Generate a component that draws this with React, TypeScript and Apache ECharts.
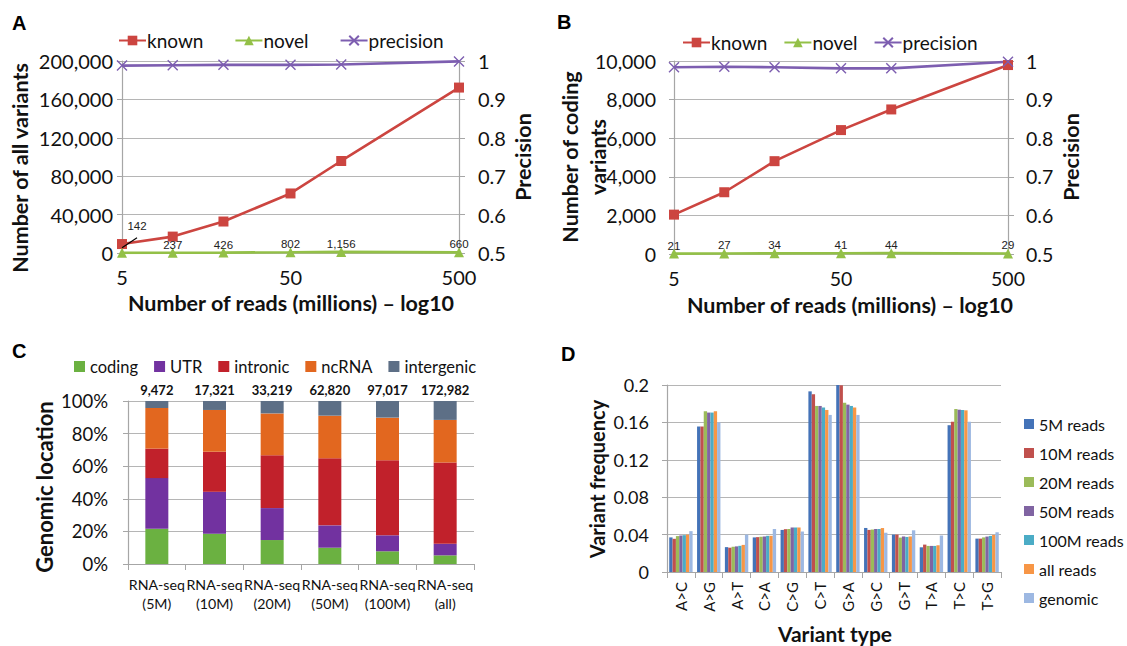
import React, { useEffect, useRef } from "react";
import * as echarts from "echarts";

// ---------- Data ----------
const reads = [5, 10, 20, 50, 100, 500];
const knownAll = [9330, 17084, 32793, 62018, 95861, 172322];
const novelAll = [142, 237, 426, 802, 1156, 660];
const precisionAll = [0.988, 0.989, 0.99, 0.99, 0.991, 0.999];

const knownCoding = [2040, 3200, 4810, 6420, 7490, 9790];
const novelCoding = [21, 27, 34, 41, 44, 29];
const precisionCoding = [0.984, 0.985, 0.984, 0.981, 0.981, 0.998];

const libraries = ["RNA-seq\n(5M)", "RNA-seq\n(10M)", "RNA-seq\n(20M)", "RNA-seq\n(50M)", "RNA-seq\n(100M)", "RNA-seq\n(all)"];
const libraryTotals = [9472, 17321, 33219, 62820, 97017, 172982];
const codingPct = [21.6, 18.6, 14.7, 10.0, 7.8, 5.3];
const utrPct = [31.1, 25.7, 19.6, 13.7, 9.8, 7.1];
const intronicPct = [18.1, 24.5, 32.4, 41.2, 46.1, 49.8];
const ncrnaPct = [24.9, 25.7, 25.7, 26.1, 26.1, 26.2];
const intergenicPct = [4.3, 5.5, 7.6, 9.0, 10.2, 11.6];

const variantTypes = ["A>C", "A>G", "A>T", "C>A", "C>G", "C>T", "G>A", "G>C", "G>T", "T>A", "T>C", "T>G"];
const freq5M = [0.037, 0.1556, 0.0266, 0.037, 0.045, 0.1932, 0.2, 0.0471, 0.04, 0.0264, 0.157, 0.0357];
const freq10M = [0.0355, 0.1556, 0.026, 0.0373, 0.0458, 0.19, 0.1997, 0.045, 0.04, 0.0293, 0.1607, 0.0357];
const freq20M = [0.0384, 0.172, 0.027, 0.0377, 0.046, 0.1776, 0.181, 0.0454, 0.0368, 0.0279, 0.1743, 0.037];
const freq50M = [0.039, 0.1705, 0.0274, 0.038, 0.0476, 0.1776, 0.179, 0.046, 0.038, 0.0279, 0.1736, 0.0379];
const freq100M = [0.0394, 0.1705, 0.028, 0.0387, 0.0476, 0.176, 0.1776, 0.046, 0.0375, 0.0279, 0.1732, 0.0386];
const freqAll = [0.04, 0.172, 0.029, 0.0387, 0.0476, 0.1733, 0.176, 0.047, 0.038, 0.0286, 0.1729, 0.0396];
const freqGenomic = [0.0437, 0.16, 0.04, 0.046, 0.0433, 0.168, 0.168, 0.042, 0.0446, 0.039, 0.1607, 0.0425];

// ---------- Styles ----------
const FONT = "Lato, 'Open Sans', sans-serif";
const TXT = "#111";
const GRID_C = "#b5b5b5";
const AXIS_C = "#a6a6a6";
const RED = "#cc4540";
const GREEN = "#93c047";
const PURPLE = "#7d5eb0";
const CROSS = "path://M0,0L10,10M10,0L0,10";

const logX = (r: number) => Math.log10(r / 5);
const fmt = (v: number) => v.toLocaleString("en-US");

function lineSeries(name: string, xi: number, yi: number, values: number[], kind: string, withLabels = false) {
  const color = kind === "known" ? RED : kind === "novel" ? GREEN : PURPLE;
  const symbol = kind === "known" ? "rect" : kind === "novel" ? "triangle" : CROSS;
  return {
    type: "line",
    name,
    xAxisIndex: xi,
    yAxisIndex: yi,
    symbol,
    symbolSize: 10,
    lineStyle: { color, width: 2.6 },
    itemStyle: kind === "precision" ? { color, borderColor: color, borderWidth: 1.4 } : { color },
    data: values.map((v, i) => {
      const item: any = { value: [logX(reads[i]), v] };
      if (withLabels && i === 0 && yi === 0) {
        item.label = { offset: [15, -16] };
        item.labelLine = { show: true, lineStyle: { color: "#000", width: 1.2 } };
      }
      return item;
    }),
    label: withLabels
      ? {
          show: true,
          position: "top",
          distance: 0,
          offset: [0, 3],
          fontSize: 11.5,
          fontFamily: "'Liberation Sans', sans-serif",
          color: "#222",
          formatter: (p: any) => fmt(values[p.dataIndex]),
        }
      : { show: false },
    z: kind === "novel" ? 10 : 2,
  };
}

function lineXAxis(gridIndex: number, size: number) {
  return {
    type: "value",
    gridIndex,
    min: 0,
    max: 2,
    interval: 1,
    axisLine: { show: false },
    axisTick: { show: false },
    splitLine: { show: false },
    axisLabel: {
      fontSize: size,
      fontFamily: FONT,
      color: TXT,
      margin: 14,
      formatter: (v: number) => String(Math.round(5 * Math.pow(10, v))),
    },
  };
}

function leftAxis(gridIndex: number, max: number, interval: number, margin: number, size: number) {
  return {
    type: "value",
    gridIndex,
    min: 0,
    max,
    interval,
    position: "left",
    axisLine: { show: true, lineStyle: { color: AXIS_C, width: 1.2 } },
    axisTick: { show: true, length: 5, lineStyle: { color: AXIS_C } },
    splitLine: { show: true, lineStyle: { color: GRID_C, width: 1.2 } },
    axisLabel: { fontSize: size, fontFamily: FONT, color: TXT, margin, formatter: (v: number) => fmt(v) },
  };
}

function rightAxis(gridIndex: number, margin: number, size: number) {
  return {
    type: "value",
    gridIndex,
    min: 0.5,
    max: 1,
    interval: 0.1,
    position: "right",
    axisLine: { show: true, lineStyle: { color: AXIS_C, width: 1.2 } },
    axisTick: { show: true, length: 6, lineStyle: { color: AXIS_C } },
    splitLine: { show: false },
    axisLabel: { fontSize: size, fontFamily: FONT, color: TXT, margin },
  };
}

function titleText(text: string, x: number, y: number, rotate = false, size = 20, lineHeight = 27) {
  return {
    type: "text",
    x,
    y,
    rotation: rotate ? Math.PI / 2 : 0,
    style: {
      text,
      fontSize: size,
      fontWeight: "bold",
      fontFamily: FONT,
      fill: TXT,
      textAlign: "center",
      textVerticalAlign: "middle",
      lineHeight,
    },
  };
}

function letter(text: string, x: number, y: number) {
  return {
    type: "text",
    x,
    y,
    style: { text, fontSize: 20, fontWeight: "bold", fontFamily: "'Liberation Sans', Arial, sans-serif", fill: "#000" },
  };
}

const cColors = ["#6bb141", "#7232a0", "#c1212b", "#e2671f", "#5d6f86"];
const cNames = ["coding", "UTR", "intronic", "ncRNA", "intergenic"];
const cValues = [codingPct, utrPct, intronicPct, ncrnaPct, intergenicPct];

const dColors = ["#4473b8", "#c0504d", "#9bbb59", "#8064a2", "#4bacc6", "#f79646", "#9db8e2"];
const dNames = ["5M reads", "10M reads", "20M reads", "50M reads", "100M reads", "all reads", "genomic"];
const dValues = [freq5M, freq10M, freq20M, freq50M, freq100M, freqAll, freqGenomic];

export default function App() {
  const ref = useRef<HTMLDivElement>(null);
  useEffect(() => {
    document.body.style.margin = "0";
    const chart = echarts.init(ref.current!, undefined, { renderer: "svg" });
    const lineLegend = (left: number, top: number, gap: number) => ({
      left,
      top,
      padding: 0,
      itemWidth: 27,
      itemHeight: 12,
      itemGap: gap,
      data: ["known", "novel", "precision"],
      textStyle: { fontSize: 19, fontFamily: FONT, color: TXT, padding: [0, 0, 0, -4] },
    });
    const option: any = {
      animation: false,
      backgroundColor: "#fff",
      textStyle: { fontFamily: FONT },
      grid: [
        { left: 122, top: 61, width: 337, height: 192 },
        { left: 674, top: 61, width: 334, height: 193 },
        { left: 128, top: 401, width: 346, height: 163 },
        { left: 667, top: 385, width: 334, height: 187 },
      ],
      xAxis: [
        lineXAxis(0, 20),
        lineXAxis(1, 19.5),
        {
          type: "category",
          gridIndex: 2,
          data: libraries,
          axisLine: { show: true, lineStyle: { color: AXIS_C, width: 1.2 } },
          axisTick: { show: true, length: 6, lineStyle: { color: AXIS_C } },
          axisLabel: { fontSize: 14.2, fontFamily: FONT, color: TXT, margin: 11, lineHeight: 19, interval: 0 },
        },
        {
          type: "category",
          gridIndex: 2,
          position: "top",
          data: libraryTotals.map(fmt),
          axisLine: { show: false },
          axisTick: { show: false },
          axisLabel: { fontSize: 13, fontWeight: "bold", fontFamily: FONT, color: TXT, margin: 5, interval: 0 },
        },
        {
          type: "category",
          gridIndex: 3,
          data: variantTypes,
          axisLine: { show: true, lineStyle: { color: AXIS_C, width: 1.2 } },
          axisTick: { show: true, length: 6, lineStyle: { color: AXIS_C } },
          axisLabel: { fontSize: 15, fontFamily: FONT, color: TXT, margin: 10, rotate: 90, interval: 0 },
        },
      ],
      yAxis: [
        leftAxis(0, 200000, 40000, 9, 20),
        rightAxis(0, 19, 20),
        leftAxis(1, 10000, 2000, 18, 19.5),
        rightAxis(1, 18, 19.5),
        {
          type: "value",
          gridIndex: 2,
          min: 0,
          max: 100,
          interval: 20,
          axisLine: { show: true, lineStyle: { color: AXIS_C, width: 1.2 } },
          axisTick: { show: true, length: 5, lineStyle: { color: AXIS_C } },
          splitLine: { show: true, lineStyle: { color: GRID_C, width: 1.2 } },
          axisLabel: { fontSize: 18.5, fontFamily: FONT, color: TXT, margin: 20, formatter: "{value}%" },
        },
        {
          type: "value",
          gridIndex: 3,
          min: 0,
          max: 0.2,
          interval: 0.04,
          axisLine: { show: true, lineStyle: { color: AXIS_C, width: 1.2 } },
          axisTick: { show: true, length: 5, lineStyle: { color: AXIS_C } },
          splitLine: { show: true, lineStyle: { color: GRID_C, width: 1.2 } },
          axisLabel: { fontSize: 18, fontFamily: FONT, color: TXT, margin: 18 },
        },
      ],
      legend: [
        lineLegend(118, 31, 31),
        lineLegend(682, 33, 16),
        {
          left: 74,
          top: 358,
          padding: 0,
          itemWidth: 11,
          itemHeight: 11,
          itemGap: 16,
          icon: "rect",
          data: cNames,
          textStyle: { fontSize: 16.5, fontFamily: FONT, color: TXT },
        },
        {
          left: 1024,
          top: 416,
          orient: "vertical",
          padding: 0,
          itemWidth: 10,
          itemHeight: 10,
          itemGap: 13,
          icon: "rect",
          data: dNames,
          textStyle: { fontSize: 16, fontFamily: FONT, color: TXT },
        },
      ],
      series: [
        lineSeries("known", 0, 0, knownAll, "known"),
        lineSeries("novel", 0, 0, novelAll, "novel", true),
        lineSeries("precision", 0, 1, precisionAll, "precision"),
        lineSeries("known", 1, 2, knownCoding, "known"),
        lineSeries("novel", 1, 2, novelCoding, "novel", true),
        lineSeries("precision", 1, 3, precisionCoding, "precision"),
        ...cNames.map((n, k) => ({
          type: "bar",
          name: n,
          xAxisIndex: 2,
          yAxisIndex: 4,
          stack: "loc",
          barWidth: 23,
          itemStyle: { color: cColors[k] },
          data: cValues[k],
        })),
        ...dNames.map((n, k) => ({
          type: "bar",
          name: n,
          xAxisIndex: 4,
          yAxisIndex: 5,
          barGap: "0%",
          barCategoryGap: "16%",
          itemStyle: { color: dColors[k] },
          data: dValues[k],
        })),
      ],
      graphic: [
        letter("A", 12, 13),
        letter("B", 557, 12),
        letter("C", 12, 341),
        letter("D", 561, 344),
        titleText("Number of all variants", 20, 168, true, 21.5),
        titleText("Precision", 523, 157, true, 21.5),
        titleText("Number of reads (millions) \u2013 log10", 291, 303, false, 21.5),
        titleText("Number of coding\nvariants", 584, 157, true, 21.5, 28),
        titleText("Precision", 1071, 157, true, 21.5),
        titleText("Number of reads (millions) \u2013 log10", 850, 305, false, 21.5),
        titleText("Genomic location", 44, 487, true, 22),
        titleText("Variant frequency", 597, 479, true, 20),
        titleText("Variant type", 835, 633, false, 21),
      ],
    };
    chart.setOption(option);
    return () => chart.dispose();
  }, []);
  return <div ref={ref} style={{ width: 1127, height: 646 }} />;
}
